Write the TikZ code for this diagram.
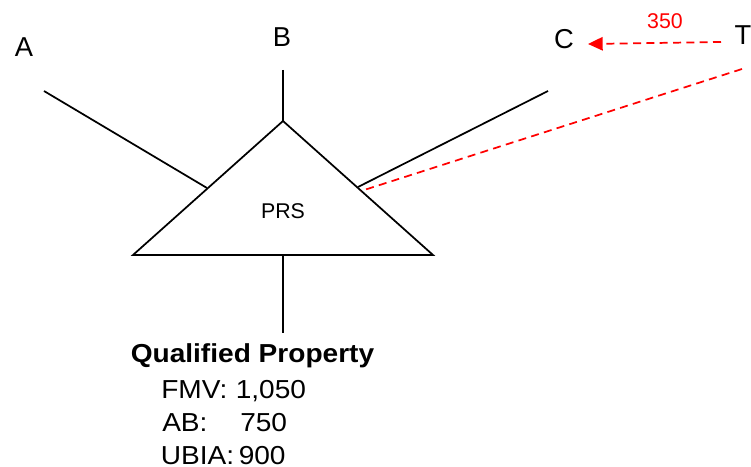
\documentclass[tikz,border=0pt]{standalone}
\usepackage{fontspec}
\setmainfont{Liberation Sans}
\newfontfamily\widefont[FakeStretch=1.08]{Liberation Sans}
\usetikzlibrary{arrows.meta}
\begin{document}
\begin{tikzpicture}[x=0.75pt,y=-0.75pt,
  edge/.style={line width=1.3pt,line cap=butt},
  reddash/.style={red,line width=1.3pt,dash pattern=on 6pt off 4pt},
  party/.style={font=\fontsize{20.5}{24}\selectfont,inner sep=0pt},
  item/.style={font=\widefont\fontsize{19.5}{23}\selectfont,inner sep=0pt,anchor=base west}]
  \useasboundingbox (0,0) rectangle (751,467);
  % triangle of the partnership
  \coordinate (top) at (283,121);
  \coordinate (bl) at (133,255);
  \coordinate (br) at (433,255);
  \coordinate (bm) at (283,255);
  \coordinate (jl) at (207,188);
  \coordinate (jr) at (358,187);
  \coordinate (jt) at (361,191);
  \draw[edge,line join=miter] (top) -- (bl) -- (br) -- cycle;
  \node[font=\fontsize{16}{19}\selectfont,inner sep=0pt] (prs) at (283,211) {PRS};
  % partners
  \node[party] (A) at (24,47) {A};
  \node[party] (B) at (282,37) {B};
  \node[party] (C) at (564,39) {C};
  \node[party] (T) at (743,35) {T};
  \coordinate (aend) at (44,91);
  \coordinate (bend) at (283,70);
  \coordinate (cend) at (548,91);
  \coordinate (tend) at (742,69);
  \coordinate (pend) at (283,333);
  \draw[edge] (aend) -- (jl);
  \draw[edge] (bend) -- (top);
  \draw[edge] (cend) -- (jr);
  \draw[edge] (bm) -- (pend);
  % transfer from T
  \draw[reddash] (tend) -- (jt);
  \coordinate (tarr) at (721,42);
  \coordinate (carr) at (588,44);
  \draw[reddash,-{Triangle[length=11pt,width=10pt,sep=0pt]}] (tarr) -- (carr);
  \node[red,font=\fontsize{16}{19}\selectfont,inner sep=0pt] (amt) at (665,21) {350};
  % qualified property
  \node[item,font=\widefont\bfseries\fontsize{19.5}{23}\selectfont] (qp) at (130.5,362.5) {Qualified Property};
  \node[item] (fmv) at (161,398.5) {FMV:};
  \node[item] (fmvv) at (235.5,398.5) {1,050};
  \node[item] (ab) at (162,431.5) {AB:};
  \node[item] (abv) at (240,431.5) {750};
  \node[item] (ubia) at (160.5,464) {UBIA:};
  \node[item] (ubiav) at (238.5,464) {900};
\end{tikzpicture}
\end{document}
